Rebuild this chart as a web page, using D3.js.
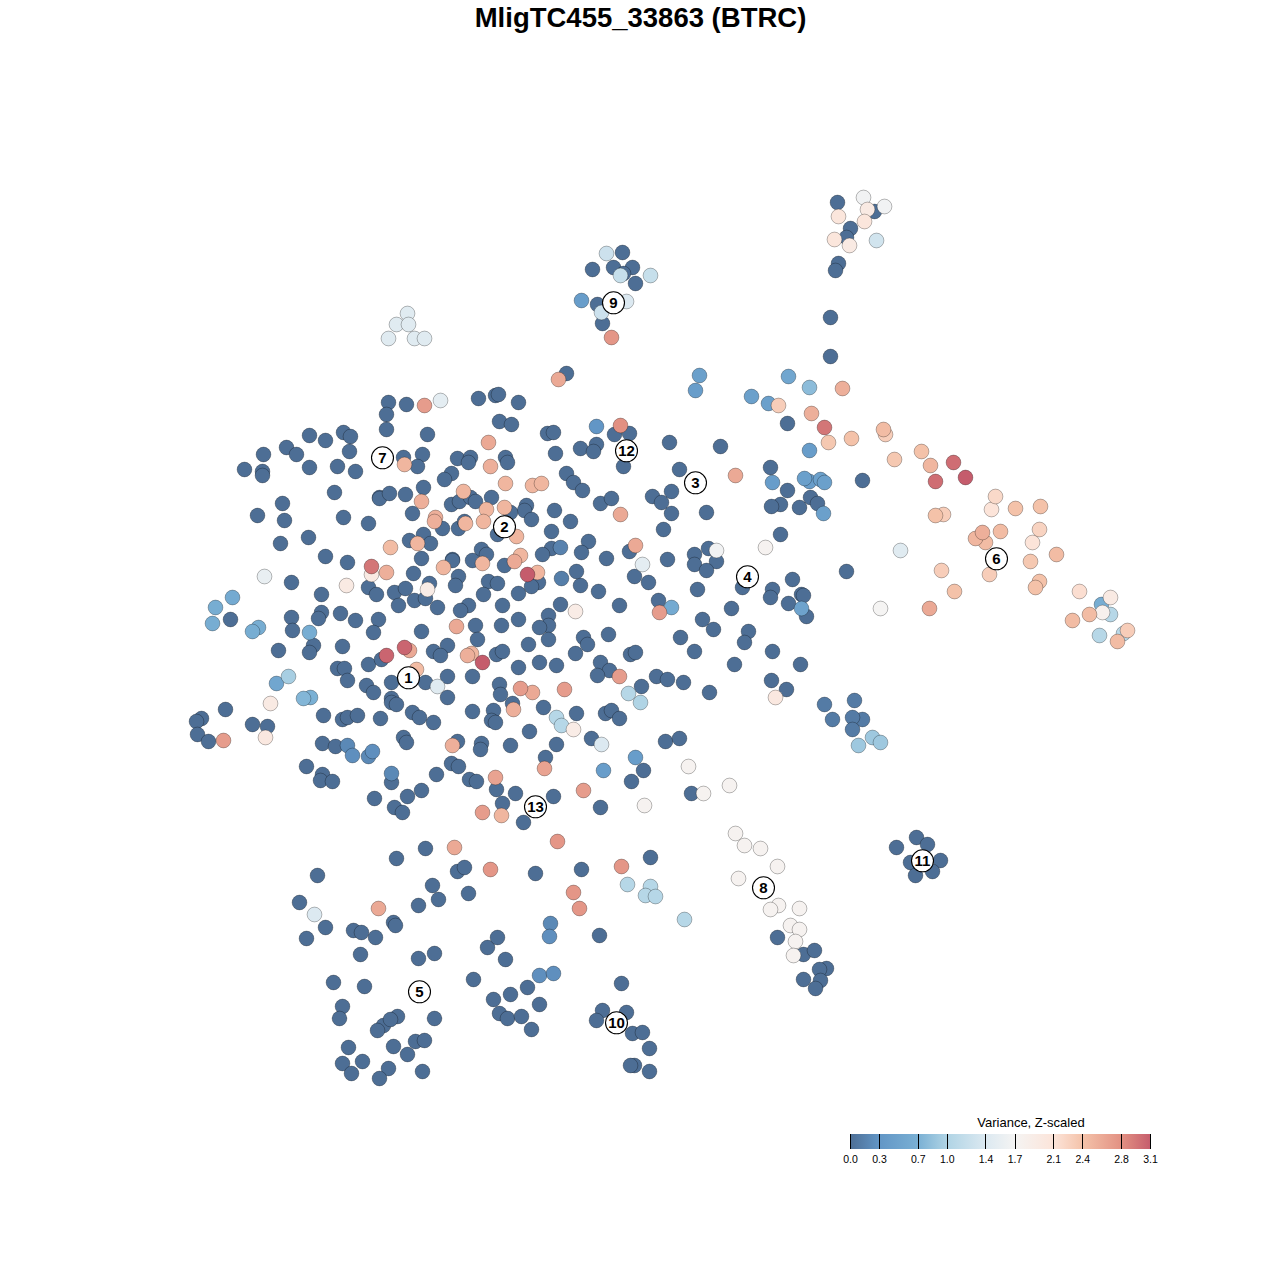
<!DOCTYPE html>
<html><head><meta charset="utf-8">
<script src="https://cdn.jsdelivr.net/npm/d3@7/dist/d3.min.js"></script>
<style>html,body{margin:0;padding:0;background:#fff}svg{display:block}text{font-family:"Liberation Sans",Arial,sans-serif}</style>
</head><body><svg id="c" width="1280" height="1280"></svg>
<script>
const chartTitle = "MligTC455_33863 (BTRC)";
const legendTitle = "Variance, Z-scaled";
const legendTicks = [0.0,0.3,0.7,1.0,1.4,1.7,2.1,2.4,2.8,3.1];
const legendColors = ["#4d6e95","#6296c6","#7ab0d4","#b0d4e5","#dce9f1","#f5f4f3","#fce4d9","#f4c2a9","#e29082","#c55c6c"];
// cells with zero variance [x, y]
const zeroCells = [
[388,402],[406,404],[386,414],[386,429],[427,434],[309,435],[325,440],[343,432],[350,436],[286,447],[296,454],[263,454],[349,451],[244,469],[262,471],[262,475],[309,467],[337,466],[355,471],[403,457],[422,454],[417,466],[457,458],[470,457],[468,462],[451,473],[444,479],[334,492],[379,497],[379,498],[389,493],[405,494],[423,487],[451,504],[459,501],[470,497],[475,501],[491,497],[282,503],[257,515],[284,520],[343,517],[368,523],[412,513],[280,543],[308,537],[442,528],[458,528],[464,521],[423,534],[409,540],[430,543],[325,556],[347,562],[421,558],[452,559],[452,560],[481,549],[486,554],[472,560],[291,582],[413,573],[458,576],[455,585],[488,581],[368,587],[376,594],[394,592],[405,588],[429,583],[321,594],[398,605],[414,600],[425,598],[437,607],[483,594],[468,605],[460,610],[321,612],[318,618],[291,617],[340,613],[355,620],[378,619],[373,632],[292,630],[230,619],[421,631],[475,625],[477,639],[278,650],[342,646],[313,645],[309,652],[368,664],[381,659],[433,651],[447,645],[440,655],[337,668],[344,668],[347,680],[366,685],[373,692],[391,682],[425,682],[447,676],[472,676],[447,697],[391,698],[478,398],[495,395],[498,394],
[518,402],[499,421],[511,424],[547,433],[553,432],[555,453],[580,448],[596,444],[593,451],[614,434],[629,433],[669,442],[720,446],[623,466],[505,457],[507,462],[566,473],[573,482],[582,490],[679,469],[652,496],[671,491],[661,502],[671,513],[706,512],[600,503],[611,498],[526,505],[524,510],[510,512],[531,519],[554,510],[570,521],[551,531],[497,534],[588,541],[581,552],[551,548],[542,554],[606,558],[629,551],[663,529],[667,559],[694,554],[694,564],[708,548],[716,561],[706,570],[634,576],[648,582],[697,589],[742,587],[792,579],[772,589],[770,597],[788,603],[801,594],[803,595],[731,608],[658,600],[619,605],[598,591],[580,585],[576,571],[504,565],[497,583],[518,593],[538,582],[531,586],[502,605],[560,604],[548,615],[548,625],[539,627],[518,619],[501,625],[548,639],[528,644],[583,637],[587,644],[608,634],[575,653],[496,654],[502,651],[539,662],[556,665],[518,667],[600,662],[609,670],[597,675],[630,654],[635,652],[680,637],[702,619],[713,629],[748,631],[744,642],[694,651],[734,664],[772,651],[800,664],[656,676],[667,679],[683,682],[709,692],[771,680],[786,689],[641,686],[499,684],[500,694],[512,703],[780,534],[770,467],[787,490],[780,504],[771,506],[799,507],[810,497],[817,503],[862,480],[846,571],[806,616],[787,423],
[225,709],[201,718],[196,721],[197,734],[208,741],[252,724],[267,726],[323,715],[342,719],[347,717],[357,715],[380,718],[391,702],[396,704],[412,712],[419,717],[433,722],[472,711],[493,710],[491,720],[495,722],[322,743],[335,746],[403,737],[406,742],[457,741],[481,743],[480,749],[451,763],[458,766],[436,774],[421,790],[407,796],[391,782],[374,798],[394,807],[402,812],[306,766],[322,774],[320,780],[332,781],[469,779],[476,781],[496,789],[502,803],[425,848],[396,858],[457,871],[464,867],[317,875],[432,885],[438,899],[468,893],[418,905],[299,902],[325,927],[306,938],[353,930],[361,932],[375,937],[393,922],[395,925],[360,954],[418,958],[434,953],[487,947],[497,937],[333,982],[364,986],[473,979],
[543,707],[576,713],[605,713],[611,710],[619,718],[529,731],[510,745],[556,744],[591,738],[665,741],[679,738],[545,757],[643,770],[631,781],[515,793],[553,796],[600,807],[523,822],[691,793],[650,857],[581,869],[535,873],[599,935],[505,959],[777,937],[621,983],[527,987],[510,994],[493,999],
[837,202],[874,211],[850,228],[846,237],[838,263],[835,270],[622,252],[592,269],[613,267],[632,267],[623,273],[635,283],[597,304],[602,323],[830,317],[830,356],[566,373],
[342,1006],[339,1018],[397,1016],[383,1025],[390,1019],[377,1030],[434,1018],[348,1047],[393,1046],[415,1041],[424,1040],[407,1054],[362,1061],[342,1063],[351,1073],[388,1068],[379,1078],[422,1071],[539,1004],[499,1013],[507,1018],[521,1016],[531,1029],[602,1010],[626,1012],[596,1020],[632,1033],[642,1032],[649,1048],[634,1065],[630,1065],[649,1071],
[916,837],[927,844],[896,847],[910,862],[940,860],[932,871],[915,875],[803,954],[814,950],[826,968],[819,969],[820,980],[815,988],[803,979]
];
// cells with measurable variance [x, y, value]
const expressedCells = [
[824,704,.1],[854,700,.1],[832,719,.1],[862,719,.1],[852,717,.1],[852,729,.1],
[596,426,.3],[560,547,.15],[561,578,.12],[772,482,.4],[695,390,.4],[699,375,.45],[751,396,.45],[768,403,.45],[671,607,.6],[801,608,.5],[788,376,.55],[809,387,.8],[809,450,.4],[804,478,.45],[809,481,.4],[820,479,.45],[824,482,.45],[823,513,.45],[581,300,.4],
[347,745,.2],[352,755,.25],[368,756,.2],[372,751,.25],[391,773,.2],[550,923,.2],[549,936,.25],[539,975,.25],[553,973,.25],[603,770,.4],[635,757,.4],
[232,597,.6],[215,607,.65],[212,623,.65],[258,627,.65],[252,631,.65],[309,632,.65],[288,676,.95],[276,683,.55],[303,698,.75],[310,697,.7],
[556,717,1.05],[561,725,1.05],[628,693,1.05],[640,702,1.0],[601,744,1.4],[627,884,1.05],[650,886,1.05],[645,895,1.05],[655,896,1.05],[684,919,1.05],[872,737,.9],[880,742,.9],[858,745,.9],[1101,604,.65],[1110,614,1.05],[1099,635,1.05],[1123,633,1.1],
[606,253,1.25],[620,275,1.2],[650,275,1.2],[626,301,1.4],[601,312,1.25],[876,240,1.3],[314,914,1.4],[642,564,1.5],[440,400,1.5],[437,686,1.45],[264,576,1.55],[900,550,1.45],
[407,313,1.45],[396,324,1.45],[408,324,1.45],[388,338,1.45],[414,338,1.45],[424,338,1.45],
[863,197,1.65],[884,206,1.65],[716,550,1.65],[880,608,1.7],[765,547,1.75],[688,766,1.75],[729,785,1.75],[703,793,1.75],[644,805,1.75],[735,833,1.75],[744,845,1.75],[760,848,1.75],[777,866,1.75],[738,878,1.75],[778,905,1.75],[770,909,1.75],[799,908,1.75],[790,925,1.75],[799,929,1.75],[795,941,1.75],[793,955,1.75],
[867,209,1.95],[838,216,2.05],[864,221,2.05],[834,239,2.05],[849,245,1.95],[575,611,1.9],[371,574,1.95],[346,585,1.95],[427,589,1.9],[270,703,1.95],[265,737,2.0],[573,729,1.9],[775,697,2.0],[1110,597,1.95],[1102,612,1.8],
[778,405,2.3],[828,442,2.35],[851,438,2.4],[885,434,2.3],[894,459,2.35],[921,451,2.4],[995,496,2.2],[991,509,2.1],[1015,508,2.4],[1040,506,2.4],[943,514,2.3],[935,515,2.4],[1039,529,2.25],[1032,542,2.1],[1030,561,2.35],[941,570,2.3],[989,574,2.3],[1039,581,2.4],[1035,587,2.4],[954,591,2.4],[1079,591,2.15],[1127,630,2.3],[1089,614,2.45],[1072,620,2.45],[1117,641,2.45],
[1000,531,2.45],[985,542,2.45],[975,538,2.5],[982,532,2.55],[1056,554,2.45],[883,429,2.45],[930,465,2.5],[929,608,2.6],[842,388,2.55],[811,413,2.55],
[620,425,2.8],[620,514,2.6],[735,475,2.6],[635,545,2.6],[659,612,2.7],[558,379,2.6],[488,442,2.6],[490,466,2.55],[505,483,2.5],[532,485,2.5],[541,483,2.5],[504,507,2.5],[486,509,2.5],[483,521,2.5],[516,536,2.5],[520,555,2.5],[514,561,2.6],[482,563,2.5],[537,572,2.5],
[424,405,2.7],[404,464,2.5],[463,491,2.5],[421,501,2.55],[435,517,2.55],[434,521,2.55],[465,523,2.5],[390,547,2.45],[417,543,2.5],[443,567,2.5],[386,572,2.55],[456,626,2.6],[409,650,2.6],[467,655,2.55],[471,653,2.5],[416,669,2.45],
[520,688,2.7],[532,692,2.6],[564,689,2.7],[619,676,2.7],[223,740,2.7],[452,745,2.55],[513,709,2.55],[495,777,2.65],[544,768,2.65],[583,790,2.7],[482,812,2.7],[501,815,2.5],[557,841,2.75],[454,847,2.6],[490,869,2.75],[621,866,2.75],[573,892,2.75],[579,908,2.75],[378,908,2.6],[611,337,2.75],
[371,566,2.95],[386,655,3.05],[404,647,3.05],[482,662,3.1],[527,574,3.1],[824,427,2.95],[953,462,3.0],[965,477,3.1],[935,481,3.0]
];
const clusterIds = ["1","2","3","4","5","6","7","8","9","10","11","12","13"];
const clusterX = [408,504,695,747,419,996,382,763,613,616,922,626,535];
const clusterY = [678,527,483,577,992,559,458,888,303,1023,861,451,807];

const svg = d3.select("#c");
const x = d3.scaleLinear().domain([0,1280]).range([0.5,1280.5]);
const y = d3.scaleLinear().domain([0,1280]).range([0.5,1280.5]);
const color = d3.scaleLinear().domain(legendTicks).range(legendColors).interpolate(d3.interpolateRgb).clamp(true);

svg.append("text").attr("x",640.5).attr("y",27).attr("text-anchor","middle")
  .attr("font-size",27.5).attr("font-weight","bold").attr("fill","#000").text(chartTitle);

const cells = zeroCells.map(d=>[d[0],d[1],0]).concat(expressedCells);
cells.sort((a,b)=>a[2]-b[2]);
svg.append("g").selectAll("circle").data(cells).join("circle")
  .attr("cx",d=>x(d[0])).attr("cy",d=>y(d[1])).attr("r",7.4)
  .attr("fill",d=>color(d[2])).attr("stroke","rgba(0,0,0,0.27)").attr("stroke-width",1);

const labels = svg.append("g").selectAll("g").data(clusterIds).join("g")
  .attr("transform",(d,i)=>`translate(${x(clusterX[i])},${y(clusterY[i])-0.7})`);
labels.append("circle").attr("r",11).attr("fill","#fff").attr("stroke","#000").attr("stroke-width",1.1);
labels.append("text").attr("text-anchor","middle").attr("dy","0.37em").attr("font-size",15)
  .attr("font-weight","bold").attr("fill","#000").text(d=>d);

// legend
const lx = d3.scaleLinear().domain([0,3.1]).range([850,1150]);
const defs = svg.append("defs");
const grad = defs.append("linearGradient").attr("id","lg").attr("x1","0").attr("x2","1").attr("y1","0").attr("y2","0");
grad.selectAll("stop").data(legendTicks).join("stop")
  .attr("offset",d=>d/3.1).attr("stop-color",d=>color(d));
svg.append("rect").attr("x",lx(0)).attr("y",1134).attr("width",lx(3.1)-lx(0)+1).attr("height",15).attr("fill","url(#lg)");
const lg = svg.append("g");
lg.selectAll("line").data(legendTicks).join("line")
  .attr("x1",d=>Math.round(lx(d))+.5).attr("x2",d=>Math.round(lx(d))+.5).attr("y1",1134).attr("y2",1149)
  .attr("stroke","#000").attr("stroke-width",1);
lg.selectAll("text").data(legendTicks).join("text")
  .attr("x",d=>lx(d)+.5).attr("y",1163).attr("text-anchor","middle").attr("font-size",10.5).attr("fill","#000")
  .text(d=>d3.format(".1f")(d));
svg.append("text").attr("x",1031).attr("y",1126.5).attr("text-anchor","middle").attr("font-size",13).attr("fill","#000").text(legendTitle);
</script></body></html>
